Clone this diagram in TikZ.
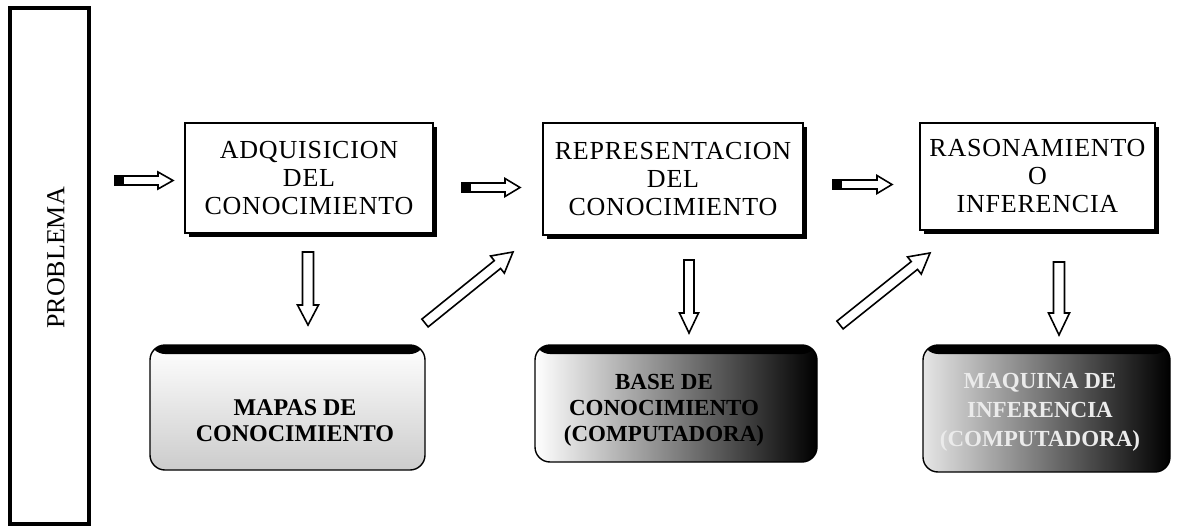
\documentclass[tikz,border=0pt]{standalone}
\usepackage{fontspec}
\setmainfont{Liberation Serif}
\usetikzlibrary{calc,shadows}
\tikzset{
  mainbox/.style={draw=black, line width=1.6pt, fill=white, rectangle,
    align=center, inner sep=0pt,
    font=\fontsize{26}{28}\selectfont\addfontfeatures{LetterSpace=3},
    drop shadow={shadow xshift=3.5pt, shadow yshift=-3.5pt, fill=black, opacity=1}},
  outbox/.style={draw=black, line width=1.4pt, rounded corners=15pt, rectangle,
    align=center, inner sep=0pt,
    path picture={\fill[black] (path picture bounding box.north west) rectangle
      ([yshift=-9pt]path picture bounding box.north east);}},
  outtext/.style={font=\bfseries\fontsize{23}{26}\selectfont, align=center, inner sep=0pt},
  probbox/.style={draw=black, line width=4pt, rectangle, inner sep=0pt},
  arrowbody/.style={draw=black, line width=1.6pt, fill=white, line join=miter},
  tailfill/.style={fill=black}
}
% #1 start, #2 tip, #3 shaft half width, #4 head half width, #5 head length, #6 black tail length
\newcommand{\blockarr}[6]{%
  \coordinate (hb) at ($(#2)!#5!(#1)$);
  \coordinate (tb) at ($(#1)!#6!(#2)$);
  \filldraw[arrowbody] ($(#1)!#3!90:(#2)$) -- ($(hb)!#3!90:(#2)$) -- ($(hb)!#4!90:(#2)$)
    -- (#2) -- ($(hb)!#4!-90:(#2)$) -- ($(hb)!#3!-90:(#2)$) -- ($(#1)!#3!-90:(#2)$) -- cycle;
  \fill[tailfill] ($(#1)!#3!90:(#2)$) -- ($(tb)!#3!90:(#2)$) -- ($(tb)!#3!-90:(#2)$)
    -- ($(#1)!#3!-90:(#2)$) -- cycle;
}
\begin{document}
\begin{tikzpicture}[x=1pt,y=-1pt]
\useasboundingbox (0,0) rectangle (1181,527);
\fill[white] (0,0) rectangle (1181,527);

% PROBLEMA column
\node[probbox, minimum width=79pt, minimum height=516pt] (prob) at (49.5,266) {};
\node[rotate=90, inner sep=0pt, font=\fontsize{26}{28}\selectfont] (problabel) at (56,258) {PROBLEMA};

% main boxes
\node[mainbox, minimum width=248pt, minimum height=110pt] (adq) at (309,178)
  {ADQUISICION\\DEL\\CONOCIMIENTO};
\node[mainbox, minimum width=260pt, minimum height=112pt] (rep) at (673,179)
  {REPRESENTACION\\DEL\\CONOCIMIENTO};
\node[mainbox, minimum width=235pt, minimum height=107pt] (ras) at (1037.5,176.5)
  {RASONAMIENTO\\O\\INFERENCIA};

% output boxes
\node[outbox, top color=white, bottom color=black!20,
      minimum width=275pt, minimum height=125pt] (mapas) at (287.5,407.5) {};
\node[outtext, font=\bfseries\fontsize{24}{26}\selectfont]
  (mapastxt) at (295,421) {MAPAS DE\\CONOCIMIENTO};

\node[outbox, left color=white, middle color=black!35, right color=black,
      minimum width=282pt, minimum height=117pt] (base) at (676,403.5) {};
\node[outtext] (basetxt) at (664,410) {BASE DE\\CONOCIMIENTO\\(COMPUTADORA)};

\node[outbox, left color=black!10, middle color=black!80, right color=black,
      minimum width=247pt, minimum height=127pt] (maq) at (1046.5,408.5) {};
\node[outtext, font=\bfseries\fontsize{23}{29}\selectfont, text=black!8]
  (maqtxt) at (1040,412) {MAQUINA DE\\INFERENCIA\\(COMPUTADORA)};

% arrow end points
\coordinate (h0s) at (115,180.5);  \coordinate (h0e) at (173,180.5);
\coordinate (h1s) at (462,187.5);  \coordinate (h1e) at (520,187.5);
\coordinate (h2s) at (833,184.5);  \coordinate (h2e) at (892,184.5);
\coordinate (d1s) at (308,252);    \coordinate (d1e) at (308,325);
\coordinate (d2s) at (689,260);    \coordinate (d2e) at (689,333);
\coordinate (d3s) at (1059,262);   \coordinate (d3e) at (1059,335);
\coordinate (g1s) at (425,323);    \coordinate (g1e) at (513,252);
\coordinate (g2s) at (840,325);    \coordinate (g2e) at (930,253);

\blockarr{h0s}{h0e}{4.5pt}{8.5pt}{15pt}{9pt}
\blockarr{h1s}{h1e}{4.5pt}{9pt}{15pt}{9pt}
\blockarr{h2s}{h2e}{4.5pt}{9pt}{15pt}{9pt}
\blockarr{d1s}{d1e}{5.5pt}{10.5pt}{20pt}{0pt}
\blockarr{d2s}{d2e}{5pt}{9.5pt}{20pt}{0pt}
\blockarr{d3s}{d3e}{5.5pt}{10.5pt}{22pt}{0pt}
\blockarr{g1s}{g1e}{5pt}{11pt}{20pt}{0pt}
\blockarr{g2s}{g2e}{5pt}{11pt}{20pt}{0pt}
\end{tikzpicture}
\end{document}
